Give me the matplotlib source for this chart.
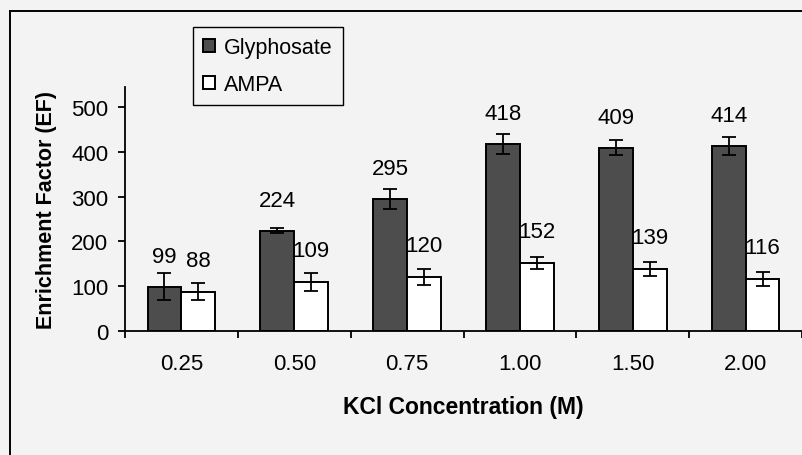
import matplotlib
matplotlib.use("Agg")
import matplotlib.pyplot as plt
from matplotlib.lines import Line2D
import numpy as np

plt.rcParams.update({
    "font.family": ["Liberation Sans", "DejaVu Sans"],
    "font.size": 16,
})

CONC = ["0.25", "0.50", "0.75", "1.00", "1.50", "2.00"]
glyphosate = [99, 224, 295, 418, 409, 414]
glyph_err = [30, 5, 22, 22, 17, 20]
ampa = [88, 109, 120, 152, 139, 116]
ampa_err = [19, 20, 18, 14, 16, 15]

BG = "#f3f3f3"
DARK = "#4d4d4d"

fig = plt.figure(figsize=(8.02, 4.56), dpi=100, facecolor=BG)
ax = fig.add_axes([125 / 802, 1 - 332 / 456, 677 / 802, 244 / 456])
ax.set_facecolor("none")

x = np.arange(len(CONC))
w = 0.3
ekw = dict(ecolor="black", elinewidth=1.3, capsize=4.7, capthick=1.3)
ax.bar(x - w / 2, glyphosate, w, color=DARK, edgecolor="black", linewidth=1.4,
       yerr=glyph_err, error_kw=ekw, label="Glyphosate", zorder=2)
ax.bar(x + w / 2, ampa, w, color="white", edgecolor="black", linewidth=1.4,
       yerr=ampa_err, error_kw=ekw, label="AMPA", zorder=2)

# value labels sit a fixed distance above the bar top (Excel style)
LBL = dict(ha="center", va="center", fontsize=16,
           family=["Liberation Sans Narrow", "Liberation Sans"])
for i in range(len(CONC)):
    ax.text(x[i] - w / 2, glyphosate[i] + 68, str(glyphosate[i]), **LBL)
    ax.text(x[i] + w / 2, ampa[i] + 70, str(ampa[i]), **LBL)

ax.set_xlim(-0.5, len(CONC) - 0.5)
ax.set_ylim(0, 545)
ax.set_yticks([0, 100, 200, 300, 400, 500])
ax.set_xticks(x)
ax.set_xticklabels(CONC)
ax.set_xticks(np.arange(len(CONC) + 1) - 0.5, minor=True)
ax.tick_params(axis="x", which="major", length=0, pad=16)
ax.tick_params(axis="x", which="minor", length=5, width=1.3, direction="out")
ax.tick_params(axis="y", length=5, width=1.3, direction="out", pad=7)
for s in ["top", "right"]:
    ax.spines[s].set_visible(False)
for s in ["left", "bottom"]:
    ax.spines[s].set_linewidth(1.3)

ax.set_xlabel("KCl Concentration (M)", fontsize=16.5, fontweight="bold", labelpad=15)
ax.set_ylabel("Enrichment Factor (EF)", fontsize=15.5, fontweight="bold", labelpad=10)

ax.legend(loc="upper left", bbox_to_anchor=(193 / 802, 1 - 28 / 456),
          bbox_transform=fig.transFigure, fontsize=15.5, frameon=True,
          fancybox=False, edgecolor="black", facecolor=BG, framealpha=1,
          handlelength=0.55, handleheight=0.55, handletextpad=0.45,
          labelspacing=0.75, borderpad=0.45, borderaxespad=0)

# outer frame (only left and top edges visible in the crop)
fx, fy = 10 / 802, 1 - 12 / 456
fig.add_artist(Line2D([fx, fx], [0, fy], color="black", lw=1.4,
                      transform=fig.transFigure))
fig.add_artist(Line2D([fx, 1], [fy, fy], color="black", lw=1.4,
                      transform=fig.transFigure))

fig.savefig("out.png", dpi=100, facecolor=BG)
